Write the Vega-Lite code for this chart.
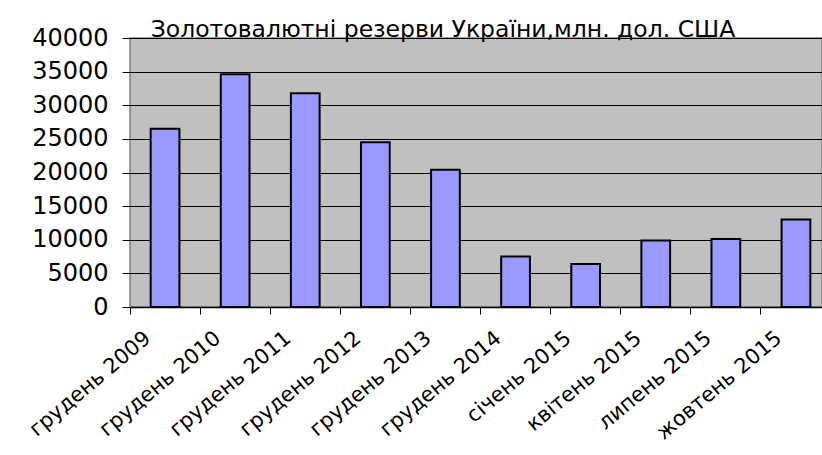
{
  "$schema": "https://vega.github.io/schema/vega-lite/v6.json",
  "width": 692,
  "height": 269,
  "autosize": {"type": "none"},
  "padding": {"left": 130, "top": 38, "right": 0, "bottom": 148},
  "background": "white",
  "title": {
    "text": "Золотовалютні резерви України,млн. дол. США",
    "font": "DejaVu Sans",
    "fontSize": 23.5,
    "fontWeight": "normal",
    "color": "black",
    "anchor": "middle",
    "frame": "group",
    "dx": -33,
    "dy": 36,
    "baseline": "alphabetic",
    "offset": 2
  },
  "data": {
    "values": [
      {"period": "грудень 2009", "reserves": 26500},
      {"period": "грудень 2010", "reserves": 34600},
      {"period": "грудень 2011", "reserves": 31800},
      {"period": "грудень 2012", "reserves": 24500},
      {"period": "грудень 2013", "reserves": 20400},
      {"period": "грудень 2014", "reserves": 7500},
      {"period": "січень 2015", "reserves": 6400},
      {"period": "квітень 2015", "reserves": 9900},
      {"period": "липень 2015", "reserves": 10100},
      {"period": "жовтень 2015", "reserves": 13000}
    ]
  },
  "mark": {
    "type": "bar",
    "fill": "#9999FF",
    "stroke": "black",
    "strokeWidth": 2,
    "width": {"band": 0.41}
  },
  "encoding": {
    "x": {
      "field": "period",
      "type": "nominal",
      "sort": null,
      "scale": {"paddingInner": 0, "paddingOuter": 0, "range": [0, 701]},
      "axis": {
        "title": null,
        "bandPosition": 0,
        "labelAngle": -40,
        "labelAlign": "right",
        "labelBaseline": "top",
        "labelFont": "DejaVu Sans",
        "labelFontSize": 21,
        "labelColor": "black",
        "labelOffset": -24,
        "labelPadding": 13,
        "labelOverlap": false,
        "labelBound": false,
        "labelFlush": false,
        "tickSize": 7,
        "tickColor": "black",
        "tickWidth": 1,
        "domainColor": "black",
        "domainWidth": 1.5,
        "grid": false
      }
    },
    "y": {
      "field": "reserves",
      "type": "quantitative",
      "scale": {"domain": [0, 40000], "nice": false},
      "axis": {
        "title": null,
        "values": [0, 5000, 10000, 15000, 20000, 25000, 30000, 35000, 40000],
        "format": "d",
        "labelFont": "DejaVu Sans",
        "labelFontSize": 24,
        "labelColor": "black",
        "labelPadding": 14,
        "tickSize": 8,
        "tickColor": "black",
        "tickWidth": 1,
        "domain": false,
        "grid": true,
        "gridColor": "black",
        "gridWidth": 1,
        "gridOpacity": 1
      }
    }
  },
  "config": {
    "view": {"fill": "#C0C0C0", "stroke": "#808080", "strokeWidth": 1.5}
  }
}
